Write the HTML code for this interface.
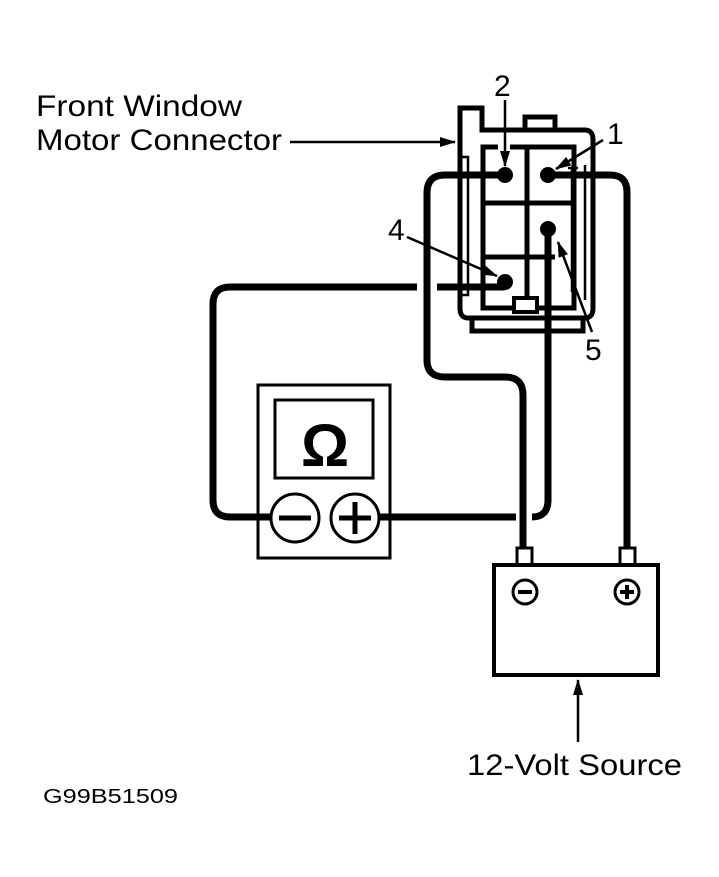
<!DOCTYPE html>
<html><head><style>body{margin:0;background:#fff}svg{display:block}</style></head><body>
<svg width="719" height="877" viewBox="0 0 719 877" xmlns="http://www.w3.org/2000/svg" font-family="Liberation Sans, sans-serif">
<defs><marker id="b" markerWidth="16" markerHeight="10" refX="15" refY="5" orient="auto" markerUnits="userSpaceOnUse"><path d="M0,0 L16,5 L0,10 z" fill="#000"/></marker></defs>
<g fill="none" stroke="#000">
<path d="M460,145 V108 H482 V130 H585 Q593,130 593,140 V308 Q593,318 585,318 H468 Q460,318 460,308 V145" stroke-width="5"/>
<rect x="525" y="117" width="30" height="13" stroke-width="5"/>
<path d="M498,147 H483 V308 H574 V147 H510" stroke-width="5"/>
<line x1="527" y1="147" x2="527" y2="300" stroke-width="5"/>
<line x1="483" y1="203" x2="574" y2="203" stroke-width="5"/>
<line x1="483" y1="257" x2="555" y2="257" stroke-width="5"/>
<rect x="514" y="298" width="23" height="14" fill="#fff" stroke-width="4"/>
<rect x="472" y="318" width="111" height="13" stroke-width="5"/>
<path d="M462,157 H468 V295 H462" stroke-width="2.5"/>
<path d="M572,168 V292 M585,165 V300 M568,168 H578" stroke-width="2.5"/>
<path d="M505,175 H445 Q427,175 427,193 V360 Q427,377 445,377 H505 Q523,377 523,395 V550" stroke-width="7"/>
<path d="M548,175 H610 Q627,175 627,192 V550" stroke-width="7"/>
<path d="M548,229 V500 Q548,517 532,517" stroke-width="7"/>
<path d="M378,517 H516" stroke-width="7"/>
<path d="M505,287 H437 M417,287 H230 Q213,287 213,304 V500 Q213,517 230,517 H272" stroke-width="7"/>
<rect x="258" y="385" width="132" height="173" stroke-width="3"/>
<rect x="275" y="400" width="98" height="78" stroke-width="3"/>
<circle cx="295" cy="518" r="24" fill="#fff" stroke-width="3"/>
<circle cx="355" cy="518" r="24" fill="#fff" stroke-width="3"/>
<path d="M279,518 H311 M339,518 H371 M355,502 V534" stroke-width="5"/>
<rect x="517" y="548" width="15" height="17" fill="#fff" stroke-width="3"/>
<rect x="620" y="548" width="15" height="17" fill="#fff" stroke-width="3"/>
<rect x="494" y="565" width="164" height="110" stroke-width="4"/>
<circle cx="525" cy="592" r="12" stroke-width="3"/>
<circle cx="627" cy="592" r="12" stroke-width="3"/>
<path d="M518,592 H532 M620,592 H634 M627,585 V599" stroke-width="4"/>
<line x1="578" y1="742" x2="578" y2="680" stroke-width="2.5" marker-end="url(#b)"/>
<line x1="290" y1="142" x2="455" y2="142" stroke-width="2.5" marker-end="url(#b)"/>
<line x1="505" y1="100" x2="505" y2="166" stroke-width="2.5" marker-end="url(#b)"/>
<line x1="603" y1="140" x2="556" y2="169" stroke-width="2.5" marker-end="url(#b)"/>
<line x1="407" y1="237" x2="497" y2="276" stroke-width="2.5" marker-end="url(#b)"/>
<line x1="592" y1="332" x2="558" y2="242" stroke-width="2.5" marker-end="url(#b)"/>
</g>
<g fill="#000">
<circle cx="505" cy="175" r="8"/><circle cx="548" cy="175" r="8"/>
<circle cx="548" cy="229" r="8"/><circle cx="505" cy="282" r="8"/>
<text x="325" y="466" font-size="60" font-weight="bold" text-anchor="middle">Ω</text>
<text x="36" y="116" font-size="30" textLength="206" lengthAdjust="spacingAndGlyphs">Front  Window</text>
<text x="36" y="150" font-size="30" textLength="246" lengthAdjust="spacingAndGlyphs">Motor Connector</text>
<text x="494" y="96" font-size="30">2</text>
<text x="607" y="144" font-size="30">1</text>
<text x="388" y="240" font-size="30">4</text>
<text x="585" y="360" font-size="30">5</text>
<text x="467" y="775" font-size="30" textLength="215" lengthAdjust="spacingAndGlyphs">12-Volt Source</text>
<text x="43" y="803" font-size="20" textLength="135" lengthAdjust="spacingAndGlyphs">G99B51509</text>
</g>
</svg>
</body></html>
